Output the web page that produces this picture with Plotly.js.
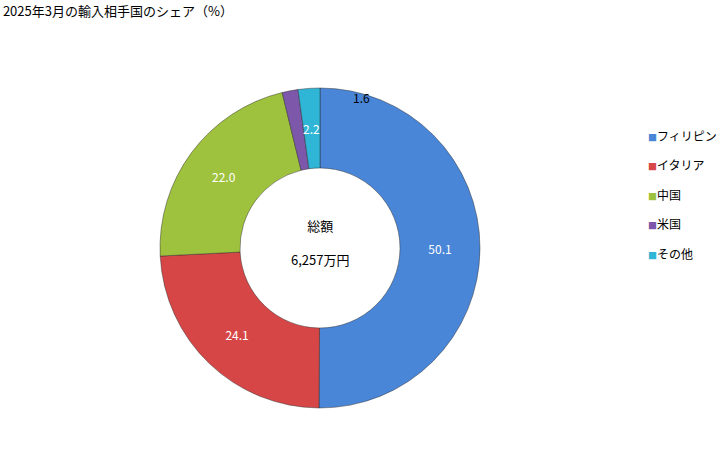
<!DOCTYPE html>
<html>
<head>
<meta charset="utf-8">
<script src="https://cdn.plot.ly/plotly-3.0.1.min.js"></script>
<style>
  html, body { margin: 0; padding: 0; background: #fff; }
  #chart { width: 728px; height: 450px; }
</style>
</head>
<body>
<div id="chart"></div>
<script>
// 2025年3月 輸入相手国のシェア
const countries = ['フィリピン', 'イタリア', '中国', '米国', 'その他'];
const shares = [50.1, 24.1, 22.0, 1.6, 2.2];
const sliceColors = ['#4a86d8', '#d64646', '#9fc23e', '#7d58aa', '#2fb5d6'];
const totalLabel = '6,257万円';

const FONT = '"Noto Sans CJK JP", "Noto Sans", sans-serif';
const W = 728, H = 450;
const CX = 320, CY = 248, R = 160;   // donut centre / radius in px

// thin slices get their labels as annotations instead of plotly inside text
const smallSlices = ['米国', 'その他'];
const textPos = countries.map(c => smallSlices.includes(c) ? 'none' : 'inside');

// mid-radius position of a slice, for the label inside a thin slice
function sliceMid(idx) {
    const total = shares.reduce((a, b) => a + b, 0);
    const before = shares.slice(0, idx).reduce((a, b) => a + b, 0);
    const ang = (before + shares[idx] / 2) / total * 2 * Math.PI;
    const r = R * 0.75;
    return { x: (CX + r * Math.sin(ang)) / W, y: 1 - (CY - r * Math.cos(ang)) / H };
}

const annotations = [
    {
        text: '総額<br><br>' + totalLabel,
        x: CX / W, y: 1 - (CY - 6) / H, xref: 'paper', yref: 'paper',
        xanchor: 'center', yanchor: 'middle',
        showarrow: false, font: { size: 13, family: FONT }
    },
    // 米国: printed just outside the ring, to the right of the top
    {
        text: shares[countries.indexOf('米国')].toFixed(1),
        x: 361 / W, y: 1 - 98 / H, xref: 'paper', yref: 'paper',
        xanchor: 'center', yanchor: 'middle',
        showarrow: false, font: { size: 12, family: FONT }
    }
];

const otherIdx = countries.indexOf('その他');
const otherPos = sliceMid(otherIdx);
annotations.push({
    text: shares[otherIdx].toFixed(1),
    x: otherPos.x, y: otherPos.y, xref: 'paper', yref: 'paper',
    xanchor: 'center', yanchor: 'middle',
    showarrow: false, font: { size: 12, family: FONT, color: '#ffffff' }
});

// legend drawn as text so the row spacing can follow the original
countries.forEach((c, i) => {
    annotations.push({
        text: '<span style="font-size:9px;color:' + sliceColors[i] + '">■</span>' + c,
        x: 646 / W, y: 1 - (135 + i * 29.6) / H, xref: 'paper', yref: 'paper',
        xanchor: 'left', yanchor: 'middle',
        showarrow: false, font: { size: 12, family: FONT }
    });
});

Plotly.newPlot('chart', [{
    type: 'pie',
    labels: countries,
    values: shares,
    hole: 0.5,
    sort: false,
    direction: 'clockwise',
    rotation: 0,
    domain: { x: [(CX - R) / W, (CX + R) / W], y: [1 - (CY + R) / H, 1 - (CY - R) / H] },
    marker: { colors: sliceColors, line: { color: 'rgba(40,40,40,0.45)', width: 1 } },
    texttemplate: shares.map(v => v.toFixed(1)),
    textinfo: 'text',
    textposition: textPos,
    insidetextorientation: 'horizontal',
    insidetextfont: { color: '#ffffff', size: 12, family: FONT },
    hoverinfo: 'label+value'
}], {
    width: W,
    height: H,
    paper_bgcolor: '#ffffff',
    font: { family: FONT, color: '#000000', size: 12 },
    margin: { l: 0, r: 0, t: 0, b: 0 },
    title: {
        text: '2025年3月の輸入相手国のシェア（%）',
        x: 0.004, xanchor: 'left', y: 0.975, yanchor: 'middle',
        font: { size: 13, family: FONT, color: '#000000' }
    },
    showlegend: false,
    annotations: annotations
}, { displayModeBar: false });
</script>
</body>
</html>
